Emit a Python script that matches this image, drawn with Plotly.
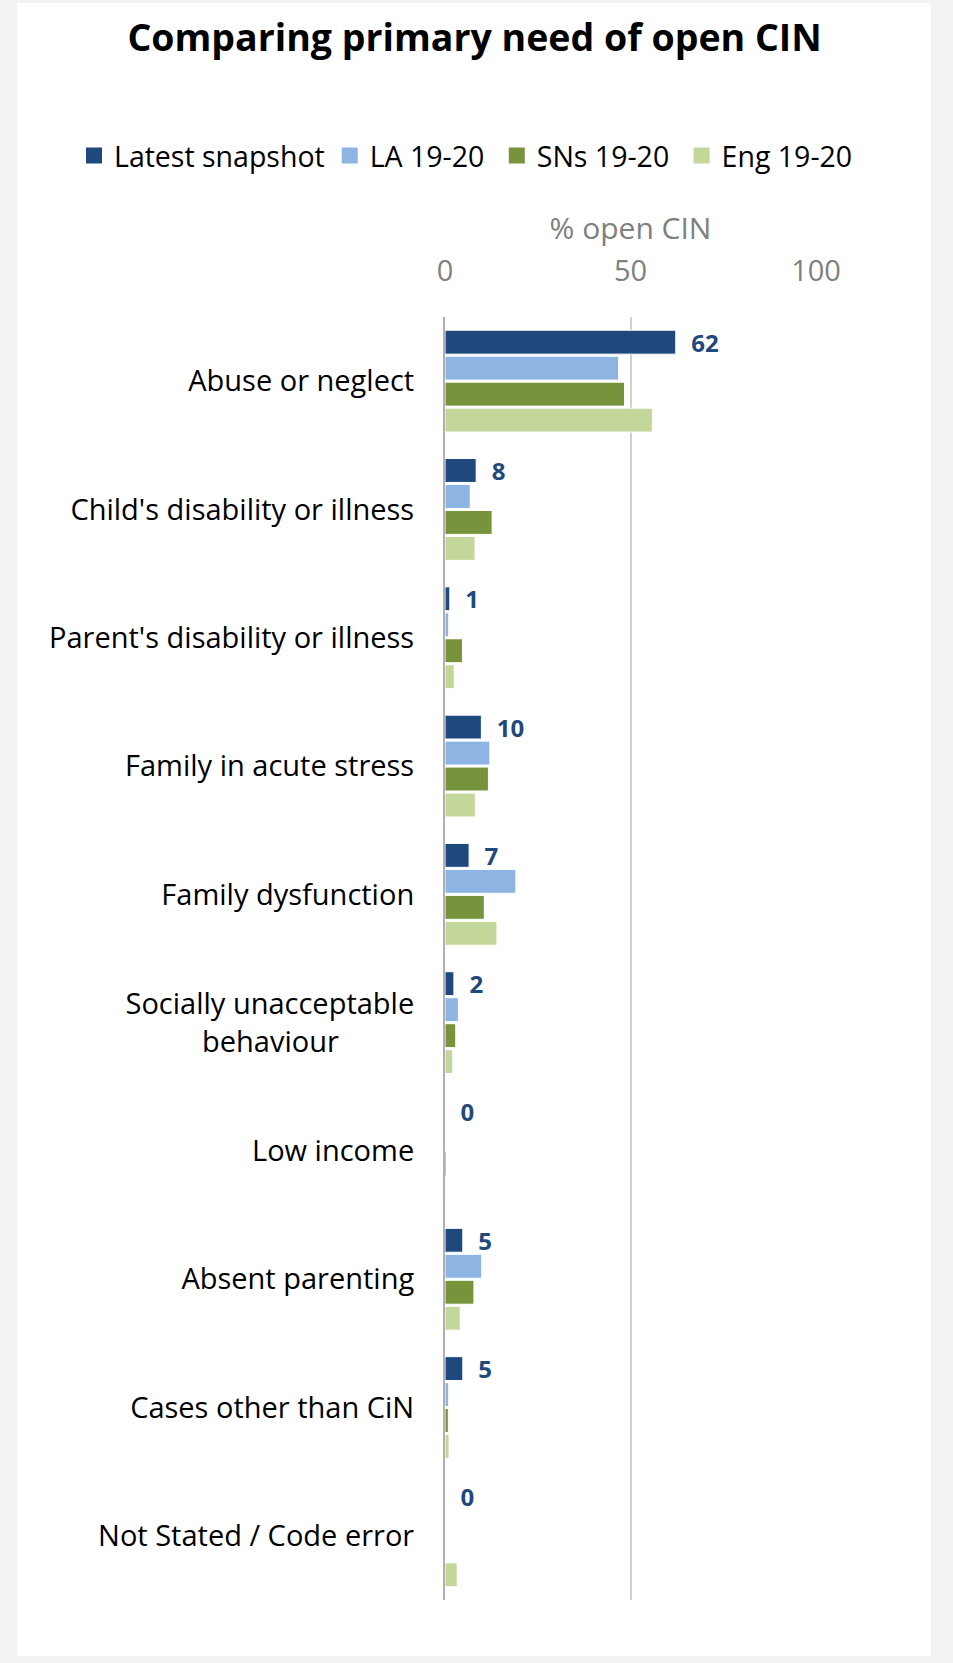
import plotly.graph_objects as go

categories = [
    "Abuse or neglect",
    "Child's disability or illness",
    "Parent's disability or illness",
    "Family in acute stress",
    "Family dysfunction",
    "Socially unacceptable<br>behaviour" + "\u00a0" * 10,
    "Low income",
    "Absent parenting",
    "Cases other than CiN",
    "Not Stated / Code error",
]
latest = [62.2, 8.4, 1.3, 9.8, 6.5, 2.4, 0.0, 4.8, 4.8, 0.0]
latest_labels = ["62", "8", "1", "10", "7", "2", "0", "5", "5", "0"]
la_1920 = [46.8, 6.8, 1.0, 12.1, 19.1, 3.6, 0.1, 9.9, 1.0, 0.0]
sns_1920 = [48.4, 12.7, 4.7, 11.7, 10.6, 2.9, 0.4, 7.8, 0.9, 0.0]
eng_1920 = [55.9, 8.1, 2.5, 8.2, 14.0, 2.1, 0.2, 4.1, 1.1, 3.3]

series = [
    ("Latest snapshot", latest, "#1F497D"),
    ("LA 19-20", la_1920, "#8DB4E2"),
    ("SNs 19-20", sns_1920, "#77933C"),
    ("Eng 19-20", eng_1920, "#C4D79B"),
]
legend_pad = ["", "\u00a0", "\u00a0", ""]

FONT = "Open Sans"
fig = go.Figure()
for i, (name, vals, col) in enumerate(series):
    kw = {}
    if i == 0:
        kw = dict(
            text=["\u00a0\u00a0" + t for t in latest_labels],
            textposition="outside",
            constraintext="none",
            textfont=dict(family=FONT, size=24, color="#1F497D", weight="bold"),
            cliponaxis=False,
        )
    fig.add_trace(go.Bar(
        name=name, x=vals, y=categories, orientation="h",
        marker=dict(color=col, line=dict(color="white", width=1)),
        showlegend=False, legendgroup=name,
        hoverinfo="x+name", **kw))

# legend entries with larger square swatches
for (name, vals, col), pad in zip(series, legend_pad):
    fig.add_trace(go.Scatter(
        name=name + pad, x=[None], y=[None], mode="markers",
        marker=dict(symbol="square", size=18, color=col),
        legendgroup=name, showlegend=True, hoverinfo="skip"))

fig.add_shape(type="rect", xref="paper", yref="paper",
              x0=-1.1536, x1=1.31, y0=-0.0436, y1=1.2447,
              fillcolor="white", line=dict(width=0), layer="below")

fig.update_layout(
    width=953, height=1663,
    margin=dict(l=445, r=137, t=317, b=63, autoexpand=False),
    paper_bgcolor="#F2F2F2", plot_bgcolor="white",
    barmode="group", bargap=0.19, bargroupgap=0.08,
    font=dict(family=FONT, size=28, color="#000000"),
    title=dict(text="<b>Comparing primary need of open CIN</b>",
               font=dict(family=FONT, size=37.5, color="#000000"),
               x=0.498, xref="container", xanchor="center",
               y=0.977, yanchor="middle"),
    legend=dict(orientation="h", x=-1.0, xanchor="left", xref="paper",
                y=1.1255, yanchor="middle", yref="paper",
                font=dict(family=FONT, size=28.5, color="#000000"),
                traceorder="normal", itemsizing="trace", itemwidth=30,
                bgcolor="rgba(0,0,0,0)"),
    showlegend=True,
    xaxis=dict(side="top", range=[0, 100], tickvals=[0, 50, 100],
               showgrid=True, gridcolor="#D0D0D0", gridwidth=1.5,
               zeroline=False, showline=False,
               tickfont=dict(family=FONT, size=29, color="#808080"),
               ticklabelstandoff=29,
               title=dict(text="% open CIN", standoff=1,
                          font=dict(family=FONT, size=30, color="#808080"))),
    yaxis=dict(autorange="reversed", showline=True, linecolor="#B0B0B0",
               linewidth=2, showgrid=False, ticks="",
               categoryorder="array", categoryarray=categories,
               tickfont=dict(family=FONT, size=29, color="#000000"),
               ticklabelstandoff=23),
)

fig.write_html("out.html", config={"displayModeBar": False},
               post_script="document.body.style.margin='0';")
